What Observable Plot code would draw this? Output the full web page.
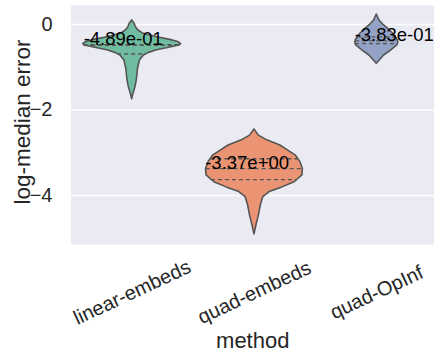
<!DOCTYPE html>
<html>
<head>
<meta charset="utf-8">
<script src="https://cdn.jsdelivr.net/npm/d3@7"></script>
<script src="https://cdn.jsdelivr.net/npm/@observablehq/plot@0.6"></script>
<style>
  html, body { margin: 0; padding: 0; background: #fff; overflow: hidden; }
</style>
</head>
<body>
<div id="chart"></div>
<script>
// ---- data ----
const methods = ["linear-embeds", "quad-embeds", "quad-OpInf"];
const medians = [-0.489, -3.37, -0.383];
const lowerQuartiles = [-0.69, -3.63, -0.45];
const upperQuartiles = [-0.47, -3.14, -0.29];
const colors = ["#70bca1", "#eb9473", "#93a2c6"];
const yTicks = [0, -2, -4];
const xLabel = "method";
const yLabel = "log-median error";

// violin profiles: [value, relative half-width (1 = widest violin)]
const linearEmbedsProfile = [
  [0.094, 0], [0.016, 0.05], [-0.07, 0.08], [-0.14, 0.13], [-0.21, 0.22],
  [-0.30, 0.51], [-0.36, 0.78], [-0.41, 0.94], [-0.46, 1.0], [-0.49, 0.97],
  [-0.55, 0.73], [-0.61, 0.49], [-0.67, 0.33], [-0.725, 0.24], [-0.84, 0.16],
  [-1.03, 0.12], [-1.26, 0.10], [-1.40, 0.08], [-1.50, 0.06], [-1.61, 0.03],
  [-1.75, 0]
];
const quadEmbedsProfile = [
  [-2.456, 0], [-2.60, 0.09], [-2.71, 0.26], [-2.83, 0.53], [-2.95, 0.69],
  [-3.06, 0.84], [-3.22, 0.94], [-3.38, 0.99], [-3.53, 0.98], [-3.69, 0.82],
  [-3.81, 0.57], [-3.92, 0.31], [-4.04, 0.18], [-4.23, 0.13], [-4.47, 0.09],
  [-4.70, 0.04], [-4.91, 0]
];
const quadOpInfProfile = [
  [0.234, 0], [0.094, 0.055], [-0.023, 0.15], [-0.14, 0.27], [-0.257, 0.37],
  [-0.374, 0.43], [-0.43, 0.44], [-0.49, 0.42], [-0.61, 0.29], [-0.725, 0.15],
  [-0.83, 0.07], [-0.92, 0]
];
const profiles = [linearEmbedsProfile, quadEmbedsProfile, quadOpInfProfile];

// ---- derived tables ----
const violinWidth = 0.4; // half of seaborn's default width 0.8
function halfWidthAt(profile, v) {
  for (let k = 0; k < profile.length - 1; k++) {
    const [v0, w0] = profile[k], [v1, w1] = profile[k + 1];
    if (v <= v0 && v >= v1) {
      const t = (v0 - v) / (v0 - v1);
      return violinWidth * (w0 + t * (w1 - w0));
    }
  }
  return 0;
}
const violinRows = profiles.flatMap((p, i) =>
  p.map(([v, w]) => ({method: methods[i], i, v, hw: violinWidth * w})));
const quartRows = methods.flatMap((m, i) =>
  [lowerQuartiles[i], medians[i], upperQuartiles[i]].map(v =>
    ({method: m, i, v, hw: halfWidthAt(profiles[i], v)})));
function sci(x) {
  const [mant, exp] = x.toExponential(2).split("e");
  const sign = exp[0];
  const digits = exp.slice(1).padStart(2, "0");
  return `${mant}e${sign}${digits}`;
}
const annotRows = methods.map((m, i) =>
  ({method: m, i, median: medians[i], x: i - halfWidthAt(profiles[i], medians[i]), label: sci(medians[i])}));

const textColor = "#262626";
const lineColor = "#555555";

const chart = Plot.plot({
  width: 434,
  height: 352,
  marginLeft: 70.5,
  marginRight: 0,
  marginTop: 5,
  marginBottom: 108,
  x: {domain: [-0.5, 2.472], axis: null},
  y: {domain: [-5.146, 0.444], axis: null},
  color: {domain: methods, range: colors},
  style: {fontFamily: "'Liberation Sans', Arial, sans-serif", background: "white", overflow: "hidden"},
  marks: [
    Plot.frame({fill: "#eaeaf2", stroke: "none"}),
    Plot.gridY(yTicks, {stroke: "white", strokeOpacity: 1, strokeWidth: 1.3}),
    Plot.areaX(violinRows, {
      y: "v", x1: d => d.i - d.hw, x2: d => d.i + d.hw, z: "method",
      fill: "method", fillOpacity: 1, stroke: lineColor, strokeWidth: 1.6, curve: "linear"
    }),
    Plot.ruleY(quartRows, {
      y: "v", x1: d => d.i - d.hw, x2: d => d.i + d.hw,
      stroke: lineColor, strokeWidth: 1.3, strokeDasharray: "4,3"
    }),
    Plot.text(annotRows, {
      x: "x", y: "median", text: "label", textAnchor: "start", lineAnchor: "bottom",
      fontSize: 18.5, dx: -1, fill: "black"
    }),
    Plot.text(yTicks, {
      y: d => d, frameAnchor: "left", text: d => d3.format("d")(d),
      textAnchor: "end", lineAnchor: "middle", dx: -18.5, fontSize: 20, fill: textColor
    }),
    Plot.text(methods, {
      x: (d, i) => i, frameAnchor: "bottom", text: d => d, rotate: -25,
      textAnchor: "middle", lineAnchor: "middle", dy: 48, fontSize: 20, fill: textColor
    }),
    Plot.text([xLabel], {
      frameAnchor: "bottom", text: d => d, textAnchor: "middle", lineAnchor: "middle",
      dy: 96, fontSize: 22, fill: textColor
    }),
    Plot.text([yLabel], {
      frameAnchor: "left", text: d => d, rotate: -90, textAnchor: "middle", lineAnchor: "middle",
      dx: -48, dy: -3, fontSize: 22.5, fill: textColor
    })
  ]
});
document.getElementById("chart").appendChild(chart);
</script>
</body>
</html>
